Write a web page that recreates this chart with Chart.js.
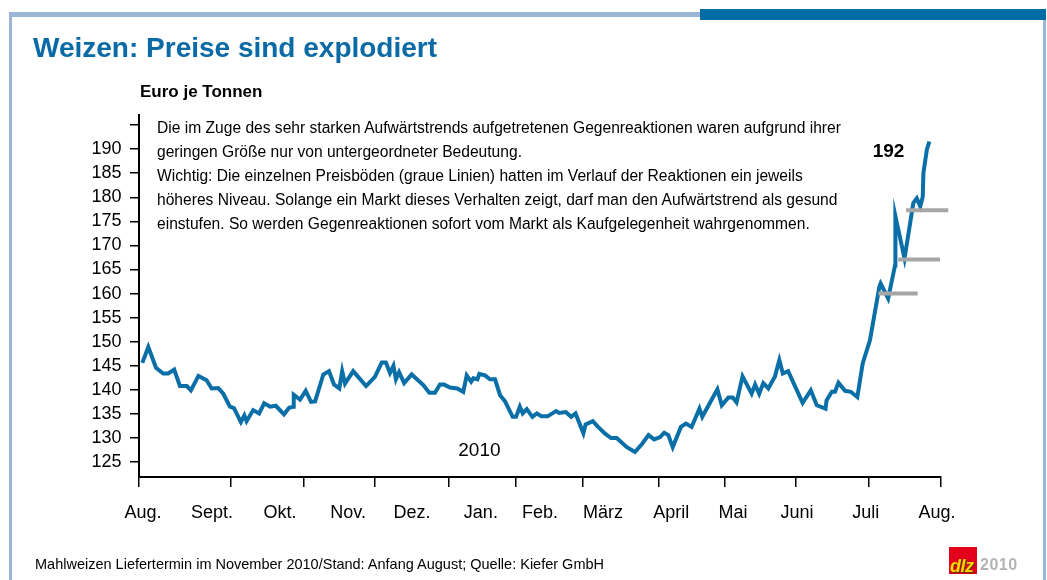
<!DOCTYPE html>
<html>
<head>
<meta charset="utf-8">
<script src="https://cdn.jsdelivr.net/npm/chart.js@4/dist/chart.umd.min.js"></script>
<style>
html,body{margin:0;padding:0;background:#fff;}
#wrap{position:relative;width:1047px;height:580px;overflow:hidden;font-family:"Liberation Sans",Arial,sans-serif;color:#000;}
#c{position:absolute;left:0;top:0;}
.abs{position:absolute;white-space:nowrap;}
</style>
</head>
<body>
<div id="wrap">
  <canvas id="c" width="1047" height="580"></canvas>
  <div class="abs" style="left:9px;top:12px;width:691px;height:5px;background:#9bb6d6;"></div>
  <div class="abs" style="left:9px;top:12px;width:3px;height:568px;background:#9bb6d6;"></div>
  <div class="abs" style="left:1043px;top:12px;width:3px;height:568px;background:#9bb6d6;"></div>
  <div class="abs" style="left:700px;top:9px;width:346px;height:11px;background:#006ca6;"></div>
  <div class="abs" style="left:33px;top:33.8px;font-size:28px;line-height:28px;font-weight:bold;color:#0a6aa6;">Weizen: Preise sind explodiert</div>
  <div class="abs" style="left:140px;top:83.1px;font-size:17px;line-height:17px;font-weight:bold;">Euro je Tonnen</div>
  <div class="abs" style="left:157px;top:116.1px;font-size:15.6px;line-height:24px;">Die im Zuge des sehr starken Aufwärtstrends aufgetretenen Gegenreaktionen waren aufgrund ihrer<br>geringen Größe nur von untergeordneter Bedeutung.<br>Wichtig: Die einzelnen Preisböden (graue Linien) hatten im Verlauf der Reaktionen ein jeweils<br>höheres Niveau. Solange ein Markt dieses Verhalten zeigt, darf man den Aufwärtstrend als gesund<br>einstufen. So werden Gegenreaktionen sofort vom Markt als Kaufgelegenheit wahrgenommen.</div>
  <div class="abs" style="left:872.7px;top:140.9px;font-size:19px;line-height:19px;font-weight:bold;">192</div>
  <div class="abs" style="left:458.3px;top:439.6px;font-size:19px;line-height:19px;">2010</div>
  <div class="abs" style="left:35px;top:556.7px;font-size:14.5px;line-height:14.5px;">Mahlweizen Liefertermin im November 2010/Stand: Anfang August; Quelle: Kiefer GmbH</div>
  <div class="abs" style="left:949px;top:547px;width:28px;height:27px;background:#e2001a;"></div>
  <div class="abs" style="left:950px;top:557.3px;font-size:18px;line-height:18px;font-weight:bold;font-style:italic;color:#ffd400;text-shadow:1px 1px 0 #5a3a00;letter-spacing:-0.5px;">dlz</div>
  <div class="abs" style="left:980px;top:557.2px;font-size:16px;line-height:16px;font-weight:bold;color:#b4b4b4;letter-spacing:0.5px;">2010</div>
</div>
<script>
// trading-day index since start of August 2009
const days = [1.05, 2.96, 5.4, 7.7, 9.3, 11.2, 13.0, 15.2, 16.5, 18.9,
  21.5, 23.1, 25.2, 26.8, 28.9, 30.2, 32.4, 33.5, 34.2, 36.3,
  38.2, 39.8, 41.7, 43.5, 46.1, 47.7, 49.1, 49.2, 51.2, 53.0,
  54.7, 56.0, 58.6, 60.4, 62.0, 63.7, 64.6, 65.5, 68.1, 72.2,
  75.0, 77.2, 78.5, 79.8, 80.9, 81.7, 82.7, 84.3, 86.7, 90.4,
  92.3, 94.1, 95.7, 97.0, 98.9, 101.2, 103.1, 104.2, 105.6, 106.3,
  107.6, 108.2, 110.0, 111.6, 113.2, 114.8, 116.4, 118.8, 119.9, 121.1,
  122.0, 123.3, 125.1, 126.5, 128.0, 129.9, 132.6, 133.6, 135.7, 137.4,
  138.8, 141.3, 142.0, 144.3, 145.8, 148.2, 150.1, 151.9, 155.1, 157.7,
  160.0, 162.0, 163.8, 165.7, 167.0, 168.3, 169.7, 172.3, 173.9, 175.7,
  178.2, 179.1, 183.9, 185.3, 187.4, 188.8, 190.0, 191.9, 194.8, 195.9,
  197.2, 198.5, 200.1, 202.2, 203.6, 204.7, 206.4, 211.0, 213.6, 215.5,
  218.3, 218.6, 220.3, 221.3, 222.4, 224.5, 226.3, 228.4, 230.1, 232.4,
  235.4, 235.8, 238.2, 240.4, 240.5, 243.4, 246.2, 247.3, 248.4, 249.2,
  249.4, 250.5, 251.3];
const prices = [145.6, 148.9, 144.6, 143.4, 143.4, 144.2, 140.8, 140.8, 139.9, 142.9,
  142.0, 140.3, 140.4, 139.2, 136.5, 136.2, 133.3, 134.7, 133.5, 135.8,
  135.1, 137.2, 136.5, 136.7, 134.9, 136.3, 136.5, 139.0, 138.0, 139.8,
  137.5, 137.6, 143.2, 143.9, 141.1, 140.3, 143.9, 141.3, 143.9, 140.8,
  142.7, 145.7, 145.7, 143.5, 145.0, 142.2, 143.7, 141.4, 143.2, 141.0,
  139.4, 139.4, 141.1, 141.1, 140.5, 140.3, 139.6, 143.0, 141.7, 142.4,
  142.2, 143.3, 143.0, 142.2, 142.2, 138.9, 137.6, 134.4, 134.4, 136.5,
  135.1, 136.0, 134.4, 135.1, 134.5, 134.5, 135.6, 135.2, 135.4, 134.4,
  135.1, 131.0, 132.8, 133.5, 132.4, 130.9, 130.0, 130.0, 128.1, 127.1,
  128.8, 130.6, 129.7, 130.2, 131.1, 130.6, 128.1, 132.3, 133.0, 132.3,
  136.1, 134.4, 140.1, 136.8, 138.4, 138.4, 137.4, 142.8, 139.2, 141.1,
  139.2, 141.4, 140.3, 142.8, 146.2, 143.4, 143.9, 137.3, 139.9, 136.8,
  136.1, 137.8, 139.6, 139.6, 141.5, 139.8, 139.6, 138.5, 145.5, 150.3,
  161.4, 162.1, 159.0, 165.9, 176.1, 167.3, 178.8, 179.8, 178.1, 180.1,
  185.0, 189.9, 191.6];
// price floors (grey lines)
const floorLevels = [160.0, 167.1, 177.3];
const floorStart = [235.1, 241.4, 243.9];
const floorEnd = [247.6, 254.7, 257.3];
// axes
const monthTicks = [0, 29.25, 52.5, 75.0, 98.6, 119.8, 141.0, 165.4, 186.4, 208.7, 232.1, 255.0];
const monthLabels = ['Aug.', 'Sept.', 'Okt.', 'Nov.', 'Dez.', 'Jan.', 'Feb.', 'März', 'April', 'Mai', 'Juni', 'Juli', 'Aug.'];
const monthLabelPos = [1.3, 23.2, 44.8, 66.5, 86.8, 108.7, 127.5, 147.5, 169.2, 188.9, 209.2, 231.1, 253.7];
const yTicks = [125, 130, 135, 140, 145, 150, 155, 160, 165, 170, 175, 180, 185, 190, 195];
const yLabelMax = 190;

const datasets = [{
  data: days.map((d, i) => ({x: d, y: prices[i]})),
  borderColor: '#0b6fa7', borderWidth: 4, pointRadius: 0, tension: 0,
  borderJoinStyle: 'miter', order: 1
}];
floorLevels.forEach((lvl, i) => {
  datasets.push({
    data: [{x: floorStart[i], y: lvl}, {x: floorEnd[i], y: lvl}],
    borderColor: '#a6a6a6', borderWidth: 4, pointRadius: 0, clip: false,
    borderCapStyle: 'butt', order: 0
  });
});

new Chart(document.getElementById('c'), {
  type: 'line',
  data: {datasets: datasets},
  options: {
    responsive: false, animation: false,
    layout: {padding: {left: 0, right: 106, top: 115, bottom: 0}},
    plugins: {legend: {display: false}, tooltip: {enabled: false}},
    scales: {
      x: {
        type: 'linear', min: 0, max: 255, position: 'bottom', weight: 0,
        afterBuildTicks: s => { s.ticks = monthTicks.map(v => ({value: v})); },
        grid: {display: true, drawOnChartArea: false, drawTicks: true, tickLength: 10, color: '#000', lineWidth: 1.5},
        border: {display: true, color: '#000', width: 2},
        ticks: {display: false},
        afterFit: s => { s.height = 11; }
      },
      x2: {
        type: 'linear', min: 0, max: 255, position: 'bottom', weight: 1,
        afterBuildTicks: s => { s.ticks = monthLabelPos.map(v => ({value: v})); },
        grid: {display: false, drawTicks: false},
        border: {display: false},
        ticks: {autoSkip: false, maxRotation: 0, padding: 14, color: '#000',
          font: {family: 'Liberation Sans', size: 18},
          callback: (v, i) => monthLabels[i]},
        afterFit: s => { s.height = 92; }
      },
      y: {
        type: 'linear', min: 121.9, max: 197.1, position: 'left',
        afterBuildTicks: s => { s.ticks = yTicks.map(v => ({value: v})); },
        grid: {drawOnChartArea: false, drawTicks: true, tickLength: 9, color: '#000', lineWidth: 1.5},
        border: {color: '#000', width: 2},
        ticks: {padding: 8.5, color: '#000', font: {family: 'Liberation Sans', size: 18},
          callback: v => (v <= yLabelMax ? String(v) : '')},
        afterFit: s => { s.width = 139; }
      }
    }
  }
});
</script>
</body>
</html>
